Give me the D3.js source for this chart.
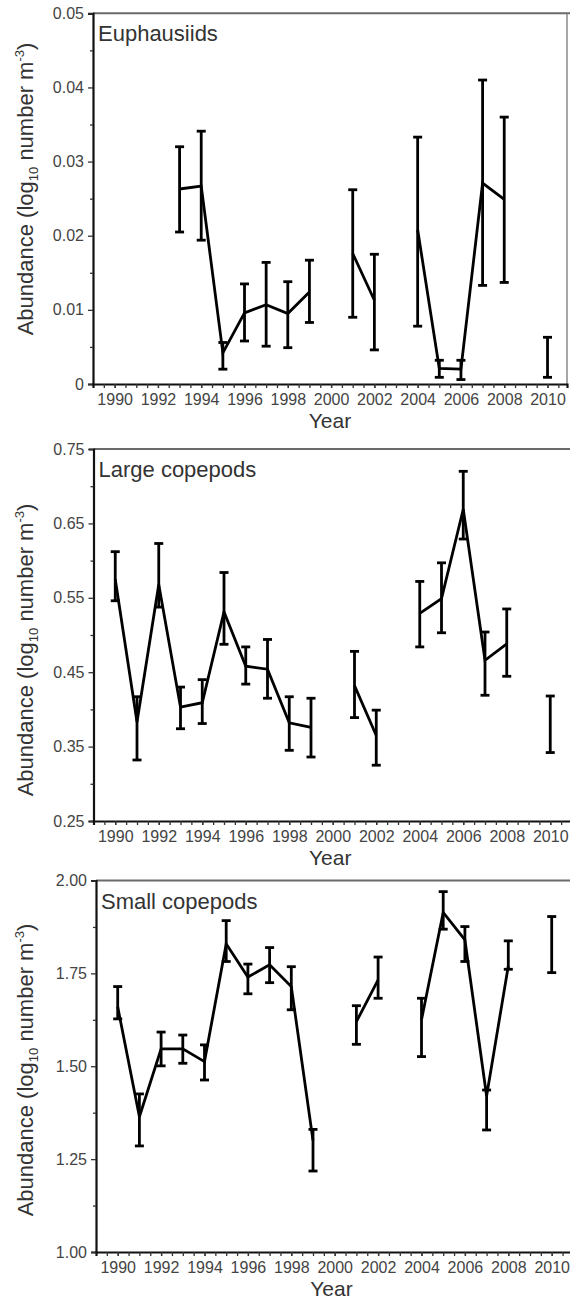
<!DOCTYPE html>
<html><head><meta charset="utf-8">
<script src="https://cdn.jsdelivr.net/npm/d3@7/dist/d3.min.js"></script>
<style>
html,body{margin:0;padding:0;background:#fff;}
svg{display:block;}
text{font-family:"Liberation Sans",Arial,Helvetica,sans-serif;}
</style></head>
<body>
<svg id="chart" width="570" height="1301"></svg>
<script>
// ---- data ----
const years = [1990,1991,1992,1993,1994,1995,1996,1997,1998,1999,2000,2001,2002,2003,2004,2005,2006,2007,2008,2009,2010];
const xTickLabels = [1990,1992,1994,1996,1998,2000,2002,2004,2006,2008,2010];

const euphMean  = [null,null,null,0.0263,0.0267,0.0042,0.0096,0.0107,0.0095,0.0124,null,0.0176,0.0113,null,0.0208,0.0021,0.0020,0.0271,0.0249,null,0.0036];
const euphUpper = [null,null,null,0.0320,0.0341,0.0056,0.0135,0.0164,0.0138,0.0167,null,0.0262,0.0175,null,0.0333,0.0032,0.0032,0.0410,0.0360,null,0.0063];
const euphLower = [null,null,null,0.0205,0.0194,0.0020,0.0058,0.0051,0.0049,0.0083,null,0.0090,0.0046,null,0.0078,0.0009,0.0006,0.0133,0.0137,null,0.0009];
const euphTicks = [0,0.01,0.02,0.03,0.04,0.05];

const largeMean  = [0.575,0.383,0.568,0.403,0.409,0.531,0.458,0.454,0.382,0.376,null,0.432,0.365,null,0.529,0.549,0.669,0.466,0.488,null,0.38];
const largeUpper = [0.612,0.417,0.623,0.430,0.440,0.584,0.484,0.494,0.417,0.415,null,0.478,0.399,null,0.572,0.597,0.720,0.504,0.535,null,0.418];
const largeLower = [0.546,0.332,0.5375,0.374,0.381,0.4875,0.434,0.415,0.345,0.336,null,0.389,0.325,null,0.484,0.503,0.629,0.419,0.4445,null,0.342];
const largeTicks = [0.25,0.35,0.45,0.55,0.65,0.75];

const smallMean  = [1.66,1.364,1.547,1.547,1.5125,1.8295,1.740,1.773,1.7145,1.30,null,1.620,1.7325,null,1.625,1.914,1.840,1.42,1.77,null,1.83];
const smallUpper = [1.7145,1.4255,1.592,1.584,1.5575,1.892,1.775,1.8195,1.768,1.330,null,1.663,1.794,null,1.683,1.970,1.876,1.436,1.8375,null,1.903];
const smallLower = [1.6275,1.2855,1.501,1.508,1.463,1.782,1.695,1.725,1.652,1.218,null,1.559,1.683,null,1.526,1.869,1.782,1.3285,1.761,null,1.752];
const smallTicks = [1.00,1.25,1.50,1.75,2.00];

const panelTitles = ["Euphausiids","Large copepods","Small copepods"];

// ---- layout ----
const panels = [
  {title:panelTitles[0], mean:euphMean, up:euphUpper, lo:euphLower, ticks:euphTicks, fmt:d=>d===0?"0":d3.format(".2f")(d),
   left:93, right:567, xmax:2010.9, top:13.3, bottom:384, ylab:189, rightBorder:true},
  {title:panelTitles[1], mean:largeMean, up:largeUpper, lo:largeLower, ticks:largeTicks, fmt:d3.format(".2f"),
   left:93.5, right:572, xmax:2011, top:449, bottom:821, ylab:650, rightBorder:false},
  {title:panelTitles[2], mean:smallMean, up:smallUpper, lo:smallLower, ticks:smallTicks, fmt:d3.format(".2f"),
   left:96, right:573.4, xmax:2011, top:880.5, bottom:1252, ylab:1070, rightBorder:false}
];

const svg = d3.select("#chart");

panels.forEach(p => {
  const g = svg.append("g");
  const x = d3.scaleLinear().domain([1989, p.xmax]).range([p.left, p.right]);
  const ymin = p.ticks[0], ymax = p.ticks[p.ticks.length-1];
  const y = d3.scaleLinear().domain([ymin, ymax]).range([p.bottom, p.top]);
  const step = p.ticks[1]-p.ticks[0];
  const minorY = d3.range(p.ticks.length-1).map(i => p.ticks[i] + step/2);

  // frame: top & right (gray)
  g.append("line").attr("x1", p.left).attr("x2", Math.max(p.right+1, 570)).attr("y1", p.top).attr("y2", p.top)
    .attr("stroke", "#6a6a6a").attr("stroke-width", 2);
  if (p.rightBorder) {
    g.append("line").attr("x1", p.right).attr("x2", p.right).attr("y1", p.top).attr("y2", p.bottom)
      .attr("stroke", "#777").attr("stroke-width", 1.3);
  }

  // y axis
  const yAxis = d3.axisLeft(y).tickValues(p.ticks).tickFormat(p.fmt).tickSize(5).tickPadding(4);
  const ya = g.append("g").attr("transform", `translate(${p.left},0)`).call(yAxis);
  ya.select(".domain").attr("stroke", "#111").attr("stroke-width", 2.2);
  ya.selectAll(".tick line").attr("stroke", "#333").attr("stroke-width", 1.3);
  ya.selectAll(".tick text").attr("font-size", 16).attr("fill", "#444");
  const yMinor = d3.axisLeft(y).tickValues(minorY).tickFormat("").tickSize(3);
  const ym = g.append("g").attr("transform", `translate(${p.left},0)`).call(yMinor);
  ym.select(".domain").remove();
  ym.selectAll(".tick line").attr("stroke", "#333").attr("stroke-width", 1.3);

  // x axis
  const halfTicks = d3.range(1989.5, p.xmax, 0.5);
  const xAxisMinor = d3.axisBottom(x).tickValues(halfTicks).tickFormat("").tickSize(4);
  const xm = g.append("g").attr("transform", `translate(0,${p.bottom})`).call(xAxisMinor);
  xm.select(".domain").attr("stroke", "#111").attr("stroke-width", 2.2);
  xm.selectAll(".tick line").attr("stroke", "#333").attr("stroke-width", 1.3);
  const xAxis = d3.axisBottom(x).tickValues(xTickLabels).tickFormat(d3.format("d")).tickSize(4).tickPadding(6);
  const xa = g.append("g").attr("transform", `translate(0,${p.bottom})`).call(xAxis);
  xa.select(".domain").remove();
  xa.selectAll(".tick line").attr("stroke", "#333").attr("stroke-width", 1.3);
  xa.selectAll(".tick text").attr("font-size", 16).attr("fill", "#444");

  // axis titles
  g.append("text").attr("x", (p.left + Math.min(p.right, 567))/2).attr("y", p.bottom + 44)
    .attr("text-anchor", "middle").attr("font-size", 21).attr("fill", "#333").text("Year");
  const yt = g.append("text").attr("transform", `translate(33,${p.ylab}) rotate(-90)`)
    .attr("text-anchor", "middle").attr("font-size", 22).attr("fill", "#333");
  yt.append("tspan").text("Abundance (log");
  yt.append("tspan").attr("font-size", 13).attr("dy", 5).text("10");
  yt.append("tspan").attr("dy", -5).text(" number m");
  yt.append("tspan").attr("font-size", 13).attr("dy", -9).text("-3");
  yt.append("tspan").attr("dy", 9).text(")");

  // panel title
  g.append("text").attr("x", p.left + 5).attr("y", p.top + 28).attr("font-size", 22).attr("fill", "#333").text(p.title);

  // data
  const pts = years.map((yr, i) => ({yr, m:p.mean[i], u:p.up[i], l:p.lo[i]}));
  const line = d3.line().defined(d => d.m !== null).x(d => x(d.yr)).y(d => y(d.m));
  g.append("path").datum(pts).attr("d", line).attr("fill", "none")
    .attr("stroke", "#000").attr("stroke-width", 2.8).attr("stroke-linejoin", "miter");

  const eb = g.append("g").selectAll("g").data(pts.filter(d => d.u !== null)).join("g");
  eb.append("line").attr("x1", d => x(d.yr)).attr("x2", d => x(d.yr))
    .attr("y1", d => y(d.u)).attr("y2", d => y(d.l)).attr("stroke", "#000").attr("stroke-width", 2.8);
  eb.append("line").attr("x1", d => x(d.yr)-4.5).attr("x2", d => x(d.yr)+4.5)
    .attr("y1", d => y(d.u)).attr("y2", d => y(d.u)).attr("stroke", "#000").attr("stroke-width", 2.8);
  eb.append("line").attr("x1", d => x(d.yr)-4.5).attr("x2", d => x(d.yr)+4.5)
    .attr("y1", d => y(d.l)).attr("y2", d => y(d.l)).attr("stroke", "#000").attr("stroke-width", 2.8);
});
</script>
</body></html>
